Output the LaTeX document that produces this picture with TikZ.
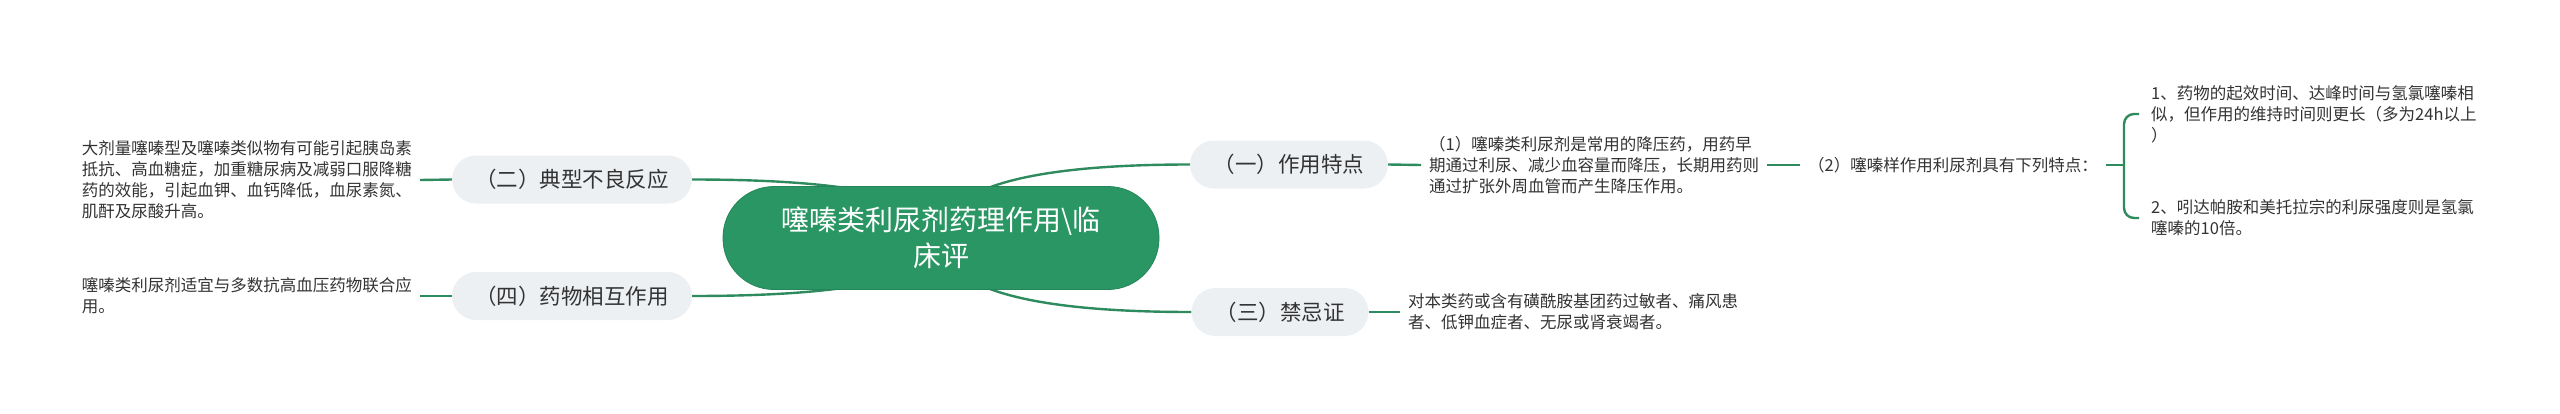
\documentclass[tikz,border=0pt]{standalone}
\usepackage{fontspec}
\setmainfont{Noto Sans CJK SC}
\usetikzlibrary{calc}
\pgfdeclarelayer{background}
\pgfsetlayers{background,main}
\definecolor{lineg}{HTML}{2E8B5E}
\definecolor{rootg}{HTML}{2A9663}
\definecolor{rootd}{HTML}{25855A}
\definecolor{nodebg}{HTML}{EDF0F3}
\definecolor{txt}{HTML}{333333}
\tikzset{
  conn/.style={draw=lineg, line width=2.4pt},
  rootbox/.style={fill=rootg, draw=rootd, line width=0.8pt, rounded corners=51pt,
    minimum width=436pt, minimum height=103pt, text=white, align=center,
    font=\fontsize{28pt}{36pt}\selectfont},
  topic/.style={fill=nodebg, rounded corners=24pt, minimum height=48pt, text=txt,
    font=\fontsize{21.5pt}{26pt}\selectfont, inner xsep=0pt},
  leaf/.style={text=txt, align=left, inner xsep=8pt, inner ysep=2pt,
    font=\fontsize{16.5pt}{21pt}\selectfont},
  bleaf/.style={leaf, inner xsep=12pt},
}
\begin{document}
\begin{tikzpicture}[x=1pt,y=-1pt]
\useasboundingbox (0,0) rectangle (2560,413);
% root
\node[rootbox] (root) at (941,238) {噻嗪类利尿剂药理作用\textbackslash 临\\床评};
% topics
\node[topic, minimum width=240pt] (n2) at (572,179.5) {（二）典型不良反应};
\node[topic, minimum width=240pt] (n4) at (572,296) {（四）药物相互作用};
\node[topic, minimum width=198pt] (n1) at (1289,164.5) {（一）作用特点};
\node[topic, minimum width=177pt] (n3) at (1280,312) {（三）禁忌证};
% leaves
\node[leaf, anchor=east] (l2) at (420,180) {大剂量噻嗪型及噻嗪类似物有可能引起胰岛素\\抵抗、高血糖症，加重糖尿病及减弱口服降糖\\药的效能，引起血钾、血钙降低，血尿素氮、\\肌酐及尿酸升高。};
\node[leaf, anchor=east] (l4) at (420,296) {噻嗪类利尿剂适宜与多数抗高血压药物联合应\\用。};
\node[leaf, anchor=west] (l1) at (1421,165) {（1）噻嗪类利尿剂是常用的降压药，用药早\\期通过利尿、减少血容量而降压，长期用药则\\通过扩张外周血管而产生降压作用。};
\node[leaf, anchor=west] (l1b) at (1800,165) {（2）噻嗪样作用利尿剂具有下列特点：};
\node[leaf, anchor=west] (l3) at (1400,312) {对本类药或含有磺酰胺基团药过敏者、痛风患\\者、低钾血症者、无尿或肾衰竭者。};
\node[bleaf, anchor=west] (la) at (2139,114) {1、药物的起效时间、达峰时间与氢氯噻嗪相\\似，但作用的维持时间则更长（多为24h以上\\）};
\node[bleaf, anchor=west] (lb) at (2139,218) {2、吲达帕胺和美托拉宗的利尿强度则是氢氯\\噻嗪的10倍。};
\coordinate (bm) at (2124,165);
% root connectors (quadratic curves from root centre)
\begin{pgfonlayer}{background}
\foreach \c/\a in {n1/west, n3/west, n2/east, n4/east}{
  \draw[conn] (root.center) .. controls ($(root.center)!2/3!(root.center |- \c.\a)$)
     and ($(\c.\a)!2/3!(root.center |- \c.\a)$) .. (\c.\a);
}
\end{pgfonlayer}
% leaf connectors
\draw[conn] (n2.west) -- (l2.east);
\draw[conn] (n4.west) -- (l4.east);
\draw[conn] (n1.east) -- (l1.west);
\draw[conn] (l1.east) -- (l1b.west);
\draw[conn] (n3.east) -- (l3.west);
\draw[conn] (l1b.east) -- (bm);
\draw[conn, rounded corners=10pt] (la.west) -- (bm |- la.west) -- (bm |- lb.west) -- (lb.west);
\end{tikzpicture}
\end{document}
